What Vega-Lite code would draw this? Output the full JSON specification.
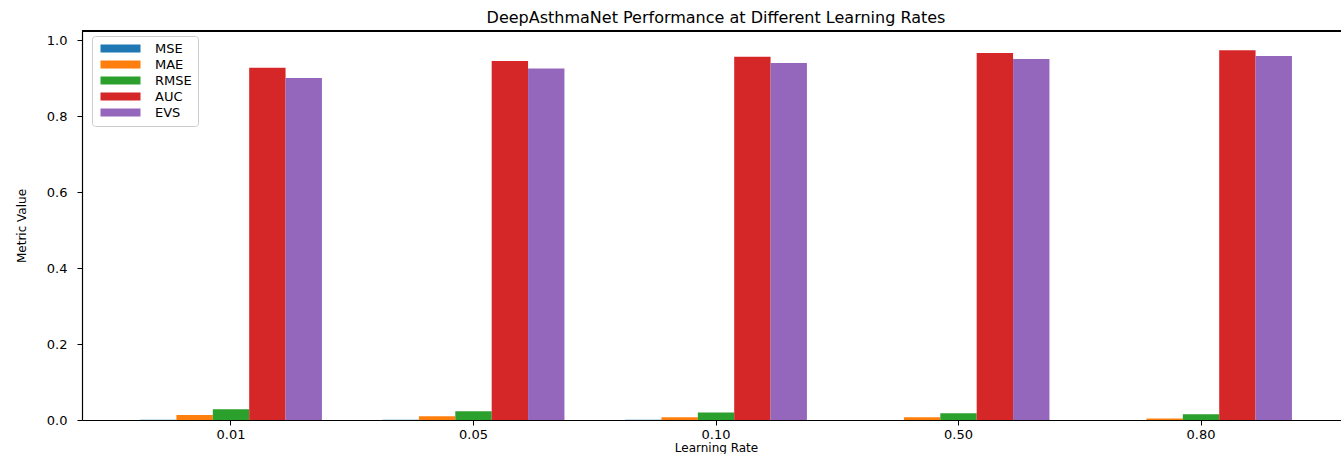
{
  "$schema": "https://vega.github.io/schema/vega-lite/v6.json",
  "width": 1268,
  "height": 389,
  "autosize": {"type": "none"},
  "padding": {"left": 82, "top": 31, "right": 0, "bottom": 34},
  "background": "white",
  "title": {
    "text": "DeepAsthmaNet Performance at Different Learning Rates",
    "font": "DejaVu Sans",
    "fontSize": 16,
    "fontWeight": "normal",
    "color": "black",
    "anchor": "middle",
    "offset": 4
  },
  "data": {
    "values": [
      {"lr": "0.01", "metric": "MSE", "value": 0.0008},
      {"lr": "0.01", "metric": "MAE", "value": 0.013},
      {"lr": "0.01", "metric": "RMSE", "value": 0.028},
      {"lr": "0.01", "metric": "AUC", "value": 0.927},
      {"lr": "0.01", "metric": "EVS", "value": 0.9},
      {"lr": "0.05", "metric": "MSE", "value": 0.0005},
      {"lr": "0.05", "metric": "MAE", "value": 0.01},
      {"lr": "0.05", "metric": "RMSE", "value": 0.023},
      {"lr": "0.05", "metric": "AUC", "value": 0.945},
      {"lr": "0.05", "metric": "EVS", "value": 0.925},
      {"lr": "0.10", "metric": "MSE", "value": 0.0004},
      {"lr": "0.10", "metric": "MAE", "value": 0.007},
      {"lr": "0.10", "metric": "RMSE", "value": 0.02},
      {"lr": "0.10", "metric": "AUC", "value": 0.956},
      {"lr": "0.10", "metric": "EVS", "value": 0.94},
      {"lr": "0.50", "metric": "MSE", "value": 0.0003},
      {"lr": "0.50", "metric": "MAE", "value": 0.007},
      {"lr": "0.50", "metric": "RMSE", "value": 0.018},
      {"lr": "0.50", "metric": "AUC", "value": 0.966},
      {"lr": "0.50", "metric": "EVS", "value": 0.95},
      {"lr": "0.80", "metric": "MSE", "value": 0.0002},
      {"lr": "0.80", "metric": "MAE", "value": 0.004},
      {"lr": "0.80", "metric": "RMSE", "value": 0.015},
      {"lr": "0.80", "metric": "AUC", "value": 0.973},
      {"lr": "0.80", "metric": "EVS", "value": 0.958}
    ]
  },
  "layer": [
    {
      "mark": {"type": "bar"},
      "encoding": {
        "x": {
          "field": "lr",
          "type": "nominal",
          "sort": ["0.01", "0.05", "0.10", "0.50", "0.80"],
          "scale": {"paddingInner": 0.25, "paddingOuter": 0.2394},
          "axis": {
            "title": "Learning Rate",
            "labelAngle": 0,
            "labelPadding": 3,
            "titlePadding": 1
          }
        },
        "xOffset": {
          "field": "metric",
          "type": "nominal",
          "sort": ["MSE", "MAE", "RMSE", "AUC", "EVS"],
          "scale": {"paddingInner": 0, "paddingOuter": 0}
        },
        "y": {
          "field": "value",
          "type": "quantitative",
          "scale": {"domain": [0, 1.024], "nice": false},
          "axis": {
            "title": "Metric Value",
            "values": [0, 0.2, 0.4, 0.6, 0.8, 1.0],
            "format": ".1f",
            "titlePadding": 18
          }
        },
        "color": {
          "field": "metric",
          "type": "nominal",
          "sort": ["MSE", "MAE", "RMSE", "AUC", "EVS"],
          "scale": {
            "domain": ["MSE", "MAE", "RMSE", "AUC", "EVS"],
            "range": ["#1f77b4", "#ff7f0e", "#2ca02c", "#d62728", "#9467bd"]
          },
          "legend": {
            "title": null,
            "orient": "none",
            "legendX": 10,
            "legendY": 5,
            "symbolType": "M-1,-1H9V1H-1Z",
            "symbolSize": 64,
            "symbolStrokeWidth": 0,
            "labelFont": "DejaVu Sans",
            "labelFontSize": 13,
            "labelColor": "black",
            "labelOffset": 44,
            "rowPadding": 2,
            "padding": 6,
            "strokeColor": "#cccccc",
            "fillColor": "white",
            "cornerRadius": 3
          }
        }
      }
    },
    {
      "mark": {"type": "rule", "color": "black", "strokeWidth": 1.5},
      "encoding": {
        "y": {"datum": 1.024, "type": "quantitative"}
      }
    }
  ],
  "config": {
    "view": {"stroke": null},
    "axis": {
      "grid": false,
      "domainColor": "black",
      "domainWidth": 1.2,
      "tickColor": "black",
      "tickSize": 5,
      "labelFont": "DejaVu Sans",
      "labelFontSize": 13,
      "labelColor": "black",
      "titleFont": "DejaVu Sans",
      "titleFontSize": 12,
      "titleFontWeight": "normal",
      "titleColor": "black",
      "labelPadding": 4
    },
    "axisY": {"labelPadding": 10}
  }
}
